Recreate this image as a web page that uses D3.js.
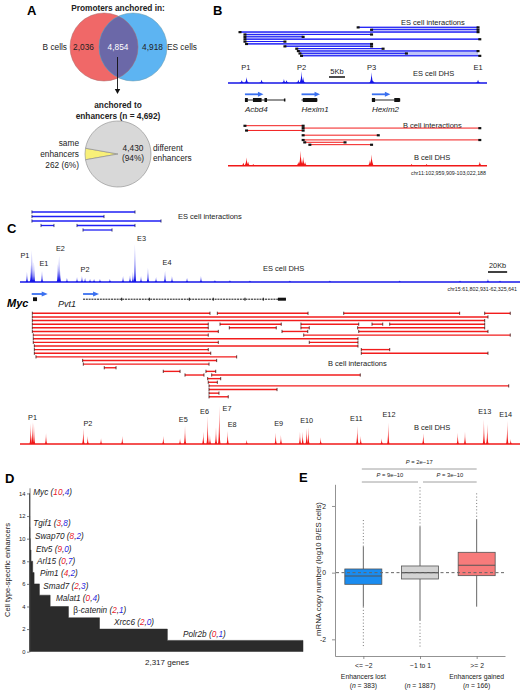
<!DOCTYPE html>
<html><head><meta charset="utf-8">
<script src="https://cdn.jsdelivr.net/npm/d3@7/dist/d3.min.js"></script>
<style>
html,body{margin:0;padding:0;background:#fff;}
svg{display:block;}
</style></head>
<body>
<svg id="fig" width="524" height="694"></svg>
<script>
// ================= DATA =================
// Panel A
const vennSets = ["B cells", "ES cells"];
const vennCounts = [2036, 4854, 4918];           // B only, shared, ES only
const pieNames = ["same", "different"];
const pieValues = [262, 4430];
const pieTotal = 4692;

// Panel B  (kb inside the displayed window)
const bWindowKb = [0, 81];
const bEsInteractions = [[40.7,78.2],[44.9,78.2],[3.75,78.2],[5.3,44.9],[5.3,23.5],[5.3,78.75],[5.3,17.8],[5.8,44.9],[17.8,44.9],[21.5,48.5],[22,78.2],[22.5,55.8],[23,78.75]];
const bBInteractions = [[5.3,23.5,0],[23.5,78.75,1],[5.8,23.5,2],[23.5,47,4],[23.5,78.75,6],[24,36.6,7],[25.6,44.9,8]];
const bEsDhs = [[4.3,2.7],[5.8,6],[10.5,3.3],[17.5,4.3],[18.3,2.7],[22,3.3],[23,11.7],[23.5,6],[44.9,10.7],[45.4,2],[78.2,3.3]];
const bBDhs = [[4.8,3],[5.8,8.3],[6.3,4],[7.9,1.7],[22,4],[22.7,15],[23.5,9],[24.1,4],[44.4,5.7],[44.9,11.3],[57.4,1.7],[62.1,1.7],[78.75,4]];
const bPeakNames = ["P1","P2","P3","E1"];
const bPeakKb = [5.6, 23, 44.9, 78.2];
const bGenes = ["Acbd4","Hexim1","Hexim2"];
const bGeneStart = [5.3, 23, 45];
const bGeneEnd = [17.8, 27.8, 53.7];
const bGeneExons = [[[5.3,6.2],[7.8,10.5],[11.4,12.2]], [[23.4,27.8]], [[45,46],[52,53.7]]];
const bRegion = "chr11:102,959,909-103,022,188";
const bScaleKb = 5;

// Panel C  (kb inside chr15:61,802,931-62,325,641)
const cWindowKb = [0, 522.7];
const cEsInteractions = [[12.5,120.2,0],[12.5,87.8,1],[12.5,147.4,2],[22,35.5,3],[59.6,120.2,3],[65.9,96.2,4]];
const cEsDhs = [[7.3,10],[11.5,17],[12.5,32],[14.6,20],[23,11],[39.7,18],[40.8,26],[41.8,12],[49.1,4],[59.6,5],[64.8,6],[68,4],[73.2,3],[77.4,3],[83.6,3],[94,3],[107.7,6],[115,7],[118.1,10],[120.2,38],[126.5,6],[133.8,14],[142.2,5],[151.6,11],[158.9,6],[174.6,4],[189.2,6],[203.8,2],[219.5,2],[240.4,1.5],[282.2,1.5],[324,1.5],[397,1.5],[460,1.5],[489.2,3],[501.8,1.5]];
const cEsPeakNames = ["P1","E1","E2","P2","E3","E4"];
const cEsPeakLabelAt = [[5.2,24],[25,16],[42.3,31],[68,10],[127,41],[153.7,17]];
const cBInteractions = [
  [[12.9,198.6],[206.3,301.1],[338.4,459.6],[485.8,512.5]],
  [[12.9,489.2]],
  [[12.9,485.8]],
  [[12.9,196.8],[209.1,273.1],[293.7,354.1],[368,379.2],[386.5,485.8]],
  [[12.9,196.8],[218.8,267.9],[293.7,302.4],[353,485.8]],
  [[12.9,207.3],[273.9,300.8],[354.1,489.2]],
  [[13.9,196.8],[296.6,512.5]],
  [[13.9,353.3]],
  [[13.9,207.3],[302.4,353.3]],
  [[15,353.3]],
  [[15,196.8],[356.8,386.5]],
  [[15,199.4],[356.8,489.2]],
  [[16.7,226.5]],
  [[65.5,205.6]],
  [[66.2,197.6]],
  [[88.1,100.4]],
  [[149.8,167.3],[194.4,204.6]],
  [[172.5,192.3],[200.4,355.7]],
  [[196.2,209.8]],
  [[196.8,206.3]],
  [[197.6,510.9]],
  [[197.6,268.7]],
  [[197.6,208]],
  [[197.6,217.7]]
];
const cBDhs = [[11.2,20.7],[12.9,22],[14.6,21],[27.2,10.7],[66.2,15.7],[70.8,8],[84.7,5.7],[106.9,8],[149.8,8],[167.3,5.7],[172.5,18],[191.6,12.3],[196.2,28],[198.6,9],[204.9,16.7],[208.3,38],[217.1,13],[237,4],[267.3,11.3],[272.8,9],[292.7,12.3],[295.5,12.3],[299.7,15.7],[301.4,16.7],[314.3,6.7],[352.6,18],[356.2,8],[378.1,5.7],[385,21.3],[421.6,10.7],[457.6,11.3],[465.2,12.3],[485,24.7],[488.5,20],[509.4,23.3],[513,5]];
const cBPeakNames = ["P1","P2","E5","E6","E7","E8","E9","E10","E11","E12","E13","E14"];
const cBPeakLabelAt = [[13.1,24],[71,18],[170.7,22],[192.9,30],[216.4,33],[221.8,17],[270.4,18],[299.7,21],[351.6,23],[385.7,27],[485.8,30],[507.7,27]];
const cGenes = ["Myc","Pvt1"];
const cGeneStart = [13.6, 65.9];
const cGeneEnd = [17.8, 278];
const cPvt1Exons = [106.3,135.2,177,202,235.2,254.3];
const cRegion = "chr15:61,802,931-62,325,641";
const cScaleKb = 20;

// Panel D
const dLevels = [14,12,11,10,9,8,7,6,5,4,3,2,1];
const dGeneCounts = [1,1,2,3,6,14,12,45,91,155,263,575,1149];
const dTotalGenes = 2317;
const dTicks = [0,2,4,6,8,10,12,14];
const dLabelGenes = ["Myc","Tgif1","Swap70","Etv5","Arl15","Pim1","Smad7","Malat1","β-catenin","Xrcc6","Polr2b"];
const dLabelB  = [10,3,8,9,0,4,2,0,2,2,0];
const dLabelES = [4,8,2,0,7,2,3,4,1,0,1];

// Panel E
const eCats = ["<= −2","−1 to 1",">= 2"];
const eGroups = ["Enhancers lost","","Enhancers gained"];
const eN = [383, 1887, 166];
const eQ1  = [-0.35,-0.19,-0.09];
const eMed = [-0.10, 0.00, 0.22];
const eQ3  = [0.11, 0.20, 0.61];
const eWhiskLo = [-1.02,-1.42,-1.02];
const eWhiskHi = [0.78, 1.38, 1.58];
const eOutLo = [-2.27,-2.22,null];
const eOutHi = [1.60, 2.58, 2.38];
const eTicks = [-2,0,2];
const ePvals = ["2e−17","9e−10","3e−10"];
const ePairs = [[0,2],[0,1],[1,2]];

// ================= LAYOUT / STYLE =================
const FONT = "'Liberation Sans', Arial, Helvetica, sans-serif";
const TXT = "#222";
const ES_BLUE = "#1f1ff5", B_RED = "#f21c1c";
const svg = d3.select("#fig").style("font-family", FONT);

function T(g, x, y, s, o = {}) {
  const t = g.append("text").attr("x", x).attr("y", y).text(s)
    .attr("font-size", o.size || 8).attr("fill", o.fill || TXT)
    .attr("text-anchor", o.anchor || "start");
  if (o.bold) t.attr("font-weight", "bold");
  if (o.italic) t.attr("font-style", "italic");
  return t;
}
function letter(x, y, s) { T(svg, x, y, s, {size: 13, bold: true, fill: "#000"}); }

function drawDhs(g, x, y, peaks, base, x0, x1, color, hw) {
  g.append("line").attr("x1", x0).attr("x2", x1).attr("y1", base).attr("y2", base)
    .attr("stroke", color).attr("stroke-width", 1.6);
  g.selectAll(null).data(peaks).join("path")
    .attr("d", d => {
      const px = x(d[0]), py = y(d[1]), h = base - py;
      return `M${px-hw},${base}Q${px-hw*0.15},${base-h*0.12} ${px},${py}Q${px+hw*0.15},${base-h*0.12} ${px+hw},${base}Z`;
    })
    .attr("fill", color);
}

// ================= PANEL A =================
{
  const g = svg.append("g");
  letter(27, 15, "A");
  T(g, 118, 11, "Promoters anchored in:", {anchor: "middle", bold: true, size: 8.3});
  const cy = 47, r = 34, cxB = 104, cxE = 133;
  const defs = svg.append("defs");
  defs.append("clipPath").attr("id", "clipRed").append("circle").attr("cx", cxB).attr("cy", cy).attr("r", r);
  g.append("circle").attr("cx", cxB).attr("cy", cy).attr("r", r).attr("fill", "#f06868");
  g.append("circle").attr("cx", cxE).attr("cy", cy).attr("r", r).attr("fill", "#5db4f2");
  g.append("circle").attr("cx", cxE).attr("cy", cy).attr("r", r).attr("fill", "#6b68a8").attr("clip-path", "url(#clipRed)");
  g.append("circle").attr("cx", cxB).attr("cy", cy).attr("r", r).attr("fill", "none").attr("stroke", "#a66").attr("stroke-width", 0.5);
  g.append("circle").attr("cx", cxE).attr("cy", cy).attr("r", r).attr("fill", "none").attr("stroke", "#69a").attr("stroke-width", 0.5);
  const fmt = d3.format(",");
  T(g, 83.5, 50, fmt(vennCounts[0]), {anchor: "middle", size: 8.3});
  T(g, 118, 50, fmt(vennCounts[1]), {anchor: "middle", size: 8.3, fill: "#fff"});
  T(g, 152.5, 50, fmt(vennCounts[2]), {anchor: "middle", size: 8.3});
  T(g, 67, 50, vennSets[0], {anchor: "end", size: 8.3});
  T(g, 167, 50, vennSets[1], {size: 8.3});
  // arrow
  g.append("line").attr("x1", 117.5).attr("x2", 117.5).attr("y1", 57).attr("y2", 90).attr("stroke", "#111").attr("stroke-width", 0.9);
  g.append("path").attr("d", "M114.8,89 L120.2,89 L117.5,94 Z").attr("fill", "#111");
  T(g, 118, 108, "anchored to", {anchor: "middle", bold: true, size: 8.3});
  T(g, 118, 119, `enhancers (n = ${fmt(pieTotal)})`, {anchor: "middle", bold: true, size: 8.3});
  // pie
  const frac = pieValues[0] / d3.sum(pieValues);
  const a0 = -Math.PI / 2 - frac * Math.PI;
  const pie = d3.pie().sort(null).startAngle(a0).endAngle(a0 + 2 * Math.PI);
  const arc = d3.arc().innerRadius(0).outerRadius(33);
  const pg = g.append("g").attr("transform", "translate(118,154)");
  pg.selectAll("path").data(pie(pieValues)).join("path").attr("d", arc)
    .attr("fill", (d, i) => i === 0 ? "#f8f078" : "#d8d8d8")
    .attr("stroke", "#888").attr("stroke-width", 0.6);
  const pct = v => Math.round(v / d3.sum(pieValues) * 100) + "%";
  T(g, 79, 146, pieNames[0], {anchor: "end", size: 8.3});
  T(g, 79, 157, "enhancers", {anchor: "end", size: 8.3});
  T(g, 79, 168, `${pieValues[0]} (${pct(pieValues[0])})`, {anchor: "end", size: 8.3});
  T(g, 133, 151, fmt(pieValues[1]), {anchor: "middle", size: 8.3});
  T(g, 133, 161, `(${pct(pieValues[1])})`, {anchor: "middle", size: 8.3});
  T(g, 153, 151, pieNames[1], {size: 8.3});
  T(g, 153, 161, "enhancers", {size: 8.3});
}

// ================= PANEL B =================
{
  const g = svg.append("g");
  letter(213, 15, "B");
  const x = d3.scaleLinear().domain(bWindowKb).range([228, 487]);
  // ES interactions
  const rowES = i => 27.3 + i * 2.37;
  T(g, 401, 25, "ES cell interactions", {size: 7.5});
  g.selectAll(null).data(bEsInteractions).join("line")
    .attr("x1", d => x(d[0])).attr("x2", d => x(d[1]))
    .attr("y1", (d, i) => rowES(i)).attr("y2", (d, i) => rowES(i))
    .attr("stroke", ES_BLUE).attr("stroke-width", 1);
  // light shading between neighbouring interactions
  const bands = [[0,1],[3,4],[7,8],[10,12]];
  bands.forEach(([a, b]) => {
    const s = Math.max(bEsInteractions[a][0], bEsInteractions[b][0]);
    const e = Math.min(bEsInteractions[a][1], bEsInteractions[b][1]);
    g.append("rect").attr("x", x(s)).attr("width", x(e) - x(s))
      .attr("y", rowES(a)).attr("height", rowES(b) - rowES(a))
      .attr("fill", "#aab0f4").attr("opacity", 0.75);
  });
  g.selectAll(null).data(bEsInteractions).join("line")
    .attr("x1", d => x(d[0])).attr("x2", d => x(d[1]))
    .attr("y1", (d, i) => rowES(i)).attr("y2", (d, i) => rowES(i))
    .attr("stroke", ES_BLUE).attr("stroke-width", 1);
  bEsInteractions.forEach((d, i) => d.forEach(p =>
    g.append("rect").attr("x", x(p) - 1.5).attr("y", rowES(i) - 1).attr("width", 3).attr("height", 2.2).attr("fill", "#111")));
  // peak labels
  bPeakNames.forEach((n, i) => T(g, x(bPeakKb[i]), 69.5, n, {anchor: "middle", size: 7.5}));
  // scale bar
  g.append("line").attr("x1", 329).attr("x2", 329 + x(bScaleKb) - x(0)).attr("y1", 77).attr("y2", 77).attr("stroke", "#111").attr("stroke-width", 1.5);
  T(g, 337, 74, bScaleKb + "Kb", {anchor: "middle", size: 7.5});
  T(g, 413, 76, "ES cell DHS", {size: 7.5});
  const yEs = d3.scaleLinear().domain([0, 20]).range([83, 63]);
  drawDhs(g, x, yEs, bEsDhs, 83, 228, 487, "#1414e6", 2.4);
  // genes
  bGenes.forEach((n, i) => {
    const xs = x(bGeneStart[i]), xe = x(bGeneEnd[i]);
    g.append("line").attr("x1", xs).attr("x2", xs + 15).attr("y1", 94.3).attr("y2", 94.3).attr("stroke", "#3a70f0").attr("stroke-width", 1.8);
    g.append("path").attr("d", `M${xs+13},91.8 L${xs+18.5},94.3 L${xs+13},96.8 Z`).attr("fill", "#3a70f0");
    g.append("line").attr("x1", xs).attr("x2", xe).attr("y1", 100).attr("y2", 100).attr("stroke", "#111").attr("stroke-width", 0.9);
    bGeneExons[i].forEach(ex => g.append("rect").attr("x", x(ex[0])).attr("width", Math.max(1.2, x(ex[1]) - x(ex[0])))
      .attr("y", 98).attr("height", 4).attr("fill", "#111"));
    g.append("rect").attr("x", xe - 1).attr("y", 98.5).attr("width", 1.5).attr("height", 3).attr("fill", "#111");
    T(g, xs, 111.5, n, {italic: true, size: 8});
  });
  // B interactions
  const rowB = r => 125.7 + r * 2.37;
  T(g, 403, 127.5, "B cell interactions", {size: 7.5});
  bBInteractions.forEach(d => {
    g.append("line").attr("x1", x(d[0])).attr("x2", x(d[1])).attr("y1", rowB(d[2])).attr("y2", rowB(d[2]))
      .attr("stroke", B_RED).attr("stroke-width", 1);
    [d[0], d[1]].forEach(p => g.append("rect").attr("x", x(p) - 1.5).attr("y", rowB(d[2]) - 1).attr("width", 3).attr("height", 2.2).attr("fill", "#111"));
  });
  T(g, 414, 159.5, "B cell DHS", {size: 7.5});
  const yB = d3.scaleLinear().domain([0, 20]).range([165.7, 145.7]);
  drawDhs(g, x, yB, bBDhs, 165.7, 228, 487, "#f01818", 2.6);
  T(g, 486, 175, bRegion, {anchor: "end", size: 5.3});
}

// ================= PANEL C =================
{
  const g = svg.append("g");
  letter(7, 233, "C");
  const x = d3.scaleLinear().domain(cWindowKb).range([20, 520]);
  const rowEs = r => 212 + r * 4.5;
  T(g, 178, 218.5, "ES cell interactions", {size: 7.5});
  cEsInteractions.forEach(d => {
    const y = rowEs(d[2]);
    g.append("line").attr("x1", x(d[0])).attr("x2", x(d[1])).attr("y1", y).attr("y2", y).attr("stroke", ES_BLUE).attr("stroke-width", 1.3);
    [d[0], d[1]].forEach(p => g.append("line").attr("x1", x(p)).attr("x2", x(p)).attr("y1", y - 1.6).attr("y2", y + 1.6).attr("stroke", "#1a1a60").attr("stroke-width", 0.8));
  });
  const yEs = d3.scaleLinear().domain([0, 40]).range([282, 242]);
  drawDhs(g, x, yEs, cEsDhs, 282, 20, 520, "#1616e8", 1.3);
  cEsPeakNames.forEach((n, i) => T(g, x(cEsPeakLabelAt[i][0]), yEs(cEsPeakLabelAt[i][1]), n, {anchor: "middle", size: 7.3}));
  T(g, 263, 270.5, "ES cell DHS", {size: 7.5});
  const sb0 = 488;
  g.append("line").attr("x1", sb0).attr("x2", sb0 + x(cScaleKb) - x(0)).attr("y1", 272).attr("y2", 272).attr("stroke", "#111").attr("stroke-width", 1.6);
  T(g, sb0 + (x(cScaleKb) - x(0)) / 2, 267.5, cScaleKb + "Kb", {anchor: "middle", size: 7.3});
  T(g, 517, 291, cRegion, {anchor: "end", size: 5.3});
  // genes
  T(g, 7, 306.5, cGenes[0], {bold: true, italic: true, size: 11, fill: "#000"});
  T(g, 58, 306.5, cGenes[1], {italic: true, size: 9});
  cGenes.forEach((n, i) => {
    const xs = x(cGeneStart[i]) - (i === 0 ? 1.3 : 0);
    g.append("line").attr("x1", xs).attr("x2", xs + 12).attr("y1", 294).attr("y2", 294).attr("stroke", "#3a70f0").attr("stroke-width", 1.8);
    g.append("path").attr("d", `M${xs+10},291.5 L${xs+16},294 L${xs+10},296.5 Z`).attr("fill", "#3a70f0");
  });
  g.append("rect").attr("x", x(cGeneStart[0])).attr("y", 297.3).attr("width", x(cGeneEnd[0]) - x(cGeneStart[0])).attr("height", 3.8).attr("fill", "#111");
  g.append("line").attr("x1", x(cGeneStart[1])).attr("x2", x(cGeneEnd[1])).attr("y1", 299.2).attr("y2", 299.2)
    .attr("stroke", "#111").attr("stroke-width", 1).attr("stroke-dasharray", "2,0.8");
  cPvt1Exons.forEach(p => g.append("rect").attr("x", x(p) - 0.5).attr("y", 297.7).attr("width", 1).attr("height", 3).attr("fill", "#111"));
  g.append("rect").attr("x", x(cGeneEnd[1]) - 8).attr("y", 297.7).attr("width", 8).attr("height", 3).attr("fill", "#111");
  // B interactions
  const rowB = r => 313.3 + r * 3.63;
  cBInteractions.forEach((segs, r) => segs.forEach(d => {
    const y = rowB(r);
    g.append("line").attr("x1", x(d[0])).attr("x2", x(d[1])).attr("y1", y).attr("y2", y).attr("stroke", B_RED).attr("stroke-width", 1.4);
    [d[0], d[1]].forEach(p => g.append("line").attr("x1", x(p)).attr("x2", x(p)).attr("y1", y - 1.6).attr("y2", y + 1.6).attr("stroke", "#401010").attr("stroke-width", 0.8));
  }));
  T(g, 328, 366, "B cell interactions", {size: 7.5});
  const yB = d3.scaleLinear().domain([0, 40]).range([444, 404]);
  drawDhs(g, x, yB, cBDhs, 444, 20, 520, "#f01818", 1.3);
  cBPeakNames.forEach((n, i) => T(g, x(cBPeakLabelAt[i][0]), yB(cBPeakLabelAt[i][1]), n, {anchor: "middle", size: 7.3}));
  T(g, 414, 430, "B cell DHS", {size: 7.5});
}

// ================= PANEL D =================
{
  const g = svg.append("g");
  letter(5, 483, "D");
  const x = d3.scaleLinear().domain([0, dTotalGenes]).range([29.5, 303]);
  const y = d3.scaleLinear().domain([0, 14.5]).range([651.7, 487.8]);
  // staircase
  let cum = 0;
  const pts = [[0, 0]];
  dLevels.forEach((lv, i) => { pts.push([cum, lv]); cum += dGeneCounts[i]; pts.push([cum, lv]); });
  pts.push([cum, 0]);
  g.append("path").attr("d", d3.line().x(d => x(d[0])).y(d => y(d[1]))(pts))
    .attr("fill", "#2b2b2b").attr("stroke", "#2b2b2b").attr("stroke-width", 0.5);
  const ax = g.append("g").attr("transform", "translate(29.5,0)")
    .call(d3.axisLeft(y).tickValues(dTicks).tickSize(2.5).tickSizeOuter(0).tickPadding(1.5));
  ax.selectAll("text").attr("font-size", 5.8).attr("font-family", FONT).attr("fill", TXT);
  ax.selectAll("line,path").attr("stroke", "#444").attr("stroke-width", 0.7);
  g.append("text").attr("transform", "translate(10,570) rotate(-90)").attr("text-anchor", "middle")
    .attr("font-size", 7.5).attr("fill", TXT).text("Cell type-specific enhancers");
  T(g, 167, 665, d3.format(",")(dTotalGenes) + " genes", {anchor: "middle", size: 8});
  const labelXY = [[33.3,495],[33.3,526],[35,538.5],[36,551.5],[37,563.5],[40,575.5],[43.3,588.5],[56,601],[73.3,613],[114,625],[183,636.7]];
  dLabelGenes.forEach((n, i) => {
    const t = g.append("text").attr("x", labelXY[i][0]).attr("y", labelXY[i][1]).attr("font-size", 8.2).attr("fill", TXT).attr("font-style", "italic");
    if (n.startsWith("β")) {
      t.append("tspan").attr("font-style", "normal").text("β");
      t.append("tspan").text(n.slice(1));
    } else t.append("tspan").text(n);
    t.append("tspan").text(" (");
    t.append("tspan").attr("fill", "#e8202a").text(dLabelB[i]);
    t.append("tspan").text(",");
    t.append("tspan").attr("fill", "#2828e0").text(dLabelES[i]);
    t.append("tspan").text(")");
  });
}

// ================= PANEL E =================
{
  const g = svg.append("g");
  letter(299, 482, "E");
  const x = d3.scalePoint().domain(eCats).range([335, 505]).padding(0.5);
  const y = d3.scaleLinear().domain([-2.5, 2.65]).range([656, 484.3]);
  const cols = ["#1a8cf0", "#d3d3d3", "#f77b7b"];
  const bw = 37;
  eCats.forEach((c, i) => {
    const cx = x(c);
    if (eOutHi[i] != null) g.append("line").attr("x1", cx).attr("x2", cx).attr("y1", y(eWhiskHi[i])).attr("y2", y(eOutHi[i]))
      .attr("stroke", "#777").attr("stroke-width", 1).attr("stroke-dasharray", "1,2.2");
    if (eOutLo[i] != null) g.append("line").attr("x1", cx).attr("x2", cx).attr("y1", y(eWhiskLo[i])).attr("y2", y(eOutLo[i]))
      .attr("stroke", "#777").attr("stroke-width", 1).attr("stroke-dasharray", "1,2.2");
    g.append("line").attr("x1", cx).attr("x2", cx).attr("y1", y(eWhiskLo[i])).attr("y2", y(eWhiskHi[i])).attr("stroke", "#555").attr("stroke-width", 0.9);
    g.append("rect").attr("x", cx - bw / 2).attr("width", bw).attr("y", y(eQ3[i])).attr("height", y(eQ1[i]) - y(eQ3[i]))
      .attr("fill", cols[i]).attr("stroke", "#555").attr("stroke-width", 0.8);
    g.append("line").attr("x1", cx - bw / 2).attr("x2", cx + bw / 2).attr("y1", y(eMed[i])).attr("y2", y(eMed[i])).attr("stroke", "#555").attr("stroke-width", 1.1);
  });
  g.append("line").attr("x1", 336).attr("x2", 505).attr("y1", y(0)).attr("y2", y(0))
    .attr("stroke", "#666").attr("stroke-width", 1).attr("stroke-dasharray", "3,2.5");
  const ay = g.append("g").attr("transform", "translate(335,0)")
    .call(d3.axisLeft(y).tickValues(eTicks).tickSize(3).tickSizeOuter(0).tickPadding(6).tickFormat(d => d < 0 ? "-" + (-d) : d));
  const axb = g.append("g").attr("transform", "translate(0,656)")
    .call(d3.axisBottom(x).tickSize(3).tickSizeOuter(0).tickPadding(3));
  [ay, axb].forEach(a => {
    a.selectAll("text").attr("font-size", 6.8).attr("font-family", FONT).attr("fill", TXT);
    a.selectAll("line,path").attr("stroke", "#777").attr("stroke-width", 0.8);
  });
  axb.selectAll("text").attr("dy", "0.9em");
  eCats.forEach((c, i) => {
    if (eGroups[i]) T(g, x(c), 679, eGroups[i], {anchor: "middle", size: 6.8});
    const t = g.append("text").attr("x", x(c)).attr("y", 688).attr("text-anchor", "middle").attr("font-size", 6.8).attr("fill", TXT);
    t.append("tspan").text("(");
    t.append("tspan").attr("font-style", "italic").text("n");
    t.append("tspan").text(` = ${eN[i]})`);
  });
  g.append("text").attr("transform", "translate(321,569) rotate(-90)").attr("text-anchor", "middle")
    .attr("font-size", 7.8).attr("fill", TXT).text("mRNA copy number (log10 B/ES cells)");
  // p-value brackets
  const byY = [469, 482, 482];
  ePairs.forEach(([a, b], k) => {
    const xa = x(eCats[a]) - (k === 2 ? -3 : 1.5), xb = x(eCats[b]) + (k === 1 ? -2 : 0);
    g.append("line").attr("x1", xa).attr("x2", xb).attr("y1", byY[k]).attr("y2", byY[k]).attr("stroke", "#888").attr("stroke-width", 0.8);
    const t = g.append("text").attr("x", (xa + xb) / 2).attr("y", byY[k] - 5.5).attr("text-anchor", "middle").attr("font-size", 5.8).attr("fill", TXT);
    t.append("tspan").attr("font-style", "italic").text("P");
    t.append("tspan").text(" = " + ePvals[k]);
  });
}
</script>
</body></html>
